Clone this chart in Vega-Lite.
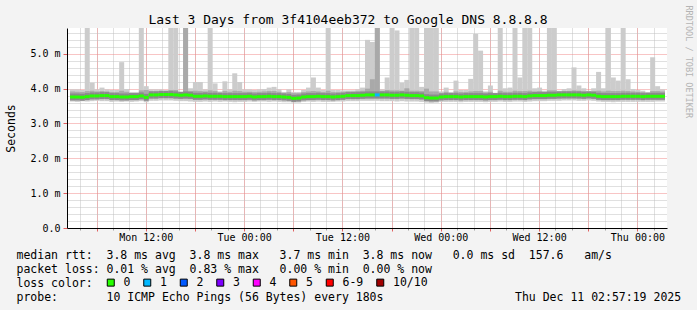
{
"$schema":"https://vega.github.io/schema/vega-lite/v6.json",
"width":600,"height":200,
"autosize":{"type":"none"},
"padding":{"left":67,"top":28,"right":30,"bottom":82},
"background":"#f3f3f3",
"config":{"view":{"stroke":null,"fill":"#ffffff"},"font":"DejaVu Sans Mono","axis":{"labelFont":"DejaVu Sans Mono","titleFont":"DejaVu Sans Mono"}},
"title":{"text":"Last 3 Days from 3f4104eeb372 to Google DNS 8.8.8.8","font":"DejaVu Sans Mono","fontSize":13,"fontWeight":"normal","color":"#000000","anchor":"middle","frame":"group","dx":-19,"dy":36,"offset":4.5,"baseline":"alphabetic"},
"data":{"values":[
{"t":"2025-12-08T03:03:36Z","lo":3.63,"q1":3.69,"q3":3.92,"hi":3.98,"med":3.76,"loss":"0"},
{"t":"2025-12-08T03:39:36Z","lo":3.62,"q1":3.69,"q3":3.91,"hi":3.98,"med":3.76,"loss":"0"},
{"t":"2025-12-08T04:15:36Z","lo":3.64,"q1":3.69,"q3":3.90,"hi":3.96,"med":3.75,"loss":"0"},
{"t":"2025-12-08T04:51:36Z","lo":3.63,"q1":3.69,"q3":3.93,"hi":5.74,"med":3.77,"loss":"0"},
{"t":"2025-12-08T05:27:36Z","lo":3.64,"q1":3.70,"q3":3.94,"hi":4.17,"med":3.79,"loss":"0"},
{"t":"2025-12-08T06:03:36Z","lo":3.65,"q1":3.70,"q3":3.92,"hi":3.98,"med":3.79,"loss":"0"},
{"t":"2025-12-08T06:39:36Z","lo":3.64,"q1":3.70,"q3":3.93,"hi":4.03,"med":3.80,"loss":"0"},
{"t":"2025-12-08T07:15:36Z","lo":3.64,"q1":3.70,"q3":3.92,"hi":3.98,"med":3.80,"loss":"0"},
{"t":"2025-12-08T07:51:36Z","lo":3.62,"q1":3.69,"q3":3.90,"hi":3.96,"med":3.77,"loss":"0"},
{"t":"2025-12-08T08:27:36Z","lo":3.63,"q1":3.69,"q3":3.90,"hi":3.96,"med":3.77,"loss":"0"},
{"t":"2025-12-08T09:03:36Z","lo":3.62,"q1":3.69,"q3":3.94,"hi":4.76,"med":3.76,"loss":"0"},
{"t":"2025-12-08T09:39:36Z","lo":3.63,"q1":3.69,"q3":3.91,"hi":3.99,"med":3.76,"loss":"0"},
{"t":"2025-12-08T10:15:36Z","lo":3.62,"q1":3.69,"q3":3.87,"hi":3.90,"med":3.77,"loss":"0"},
{"t":"2025-12-08T10:51:36Z","lo":3.63,"q1":3.69,"q3":3.87,"hi":3.90,"med":3.77,"loss":"0"},
{"t":"2025-12-08T11:27:36Z","lo":3.64,"q1":3.70,"q3":3.95,"hi":5.74,"med":3.79,"loss":"0"},
{"t":"2025-12-08T12:03:36Z","lo":3.61,"q1":3.68,"q3":3.96,"hi":4.07,"med":3.75,"loss":"0"},
{"t":"2025-12-08T12:39:36Z","lo":3.65,"q1":3.71,"q3":3.93,"hi":3.98,"med":3.82,"loss":"0"},
{"t":"2025-12-08T13:15:36Z","lo":3.65,"q1":3.71,"q3":3.93,"hi":3.98,"med":3.82,"loss":"0"},
{"t":"2025-12-08T13:51:36Z","lo":3.66,"q1":3.72,"q3":3.94,"hi":3.98,"med":3.83,"loss":"0"},
{"t":"2025-12-08T14:27:36Z","lo":3.66,"q1":3.72,"q3":3.93,"hi":3.96,"med":3.83,"loss":"0"},
{"t":"2025-12-08T15:03:36Z","lo":3.66,"q1":3.72,"q3":3.96,"hi":5.74,"med":3.83,"loss":"0"},
{"t":"2025-12-08T15:39:36Z","lo":3.65,"q1":3.71,"q3":3.96,"hi":5.74,"med":3.82,"loss":"0"},
{"t":"2025-12-08T16:15:36Z","lo":3.64,"q1":3.70,"q3":3.88,"hi":3.90,"med":3.81,"loss":"0"},
{"t":"2025-12-08T16:51:36Z","lo":3.64,"q1":3.70,"q3":5.74,"hi":5.74,"med":3.82,"loss":"0"},
{"t":"2025-12-08T17:27:36Z","lo":3.63,"q1":3.70,"q3":3.93,"hi":4.01,"med":3.81,"loss":"0"},
{"t":"2025-12-08T18:03:36Z","lo":3.62,"q1":3.69,"q3":3.94,"hi":4.19,"med":3.78,"loss":"0"},
{"t":"2025-12-08T18:39:36Z","lo":3.62,"q1":3.69,"q3":3.93,"hi":4.19,"med":3.78,"loss":"0"},
{"t":"2025-12-08T19:15:36Z","lo":3.63,"q1":3.69,"q3":3.92,"hi":3.98,"med":3.79,"loss":"0"},
{"t":"2025-12-08T19:51:36Z","lo":3.62,"q1":3.69,"q3":3.95,"hi":5.74,"med":3.78,"loss":"0"},
{"t":"2025-12-08T20:27:36Z","lo":3.63,"q1":3.69,"q3":3.93,"hi":4.15,"med":3.78,"loss":"0"},
{"t":"2025-12-08T21:03:36Z","lo":3.62,"q1":3.69,"q3":3.89,"hi":3.92,"med":3.78,"loss":"0"},
{"t":"2025-12-08T21:39:36Z","lo":3.63,"q1":3.69,"q3":3.93,"hi":4.21,"med":3.77,"loss":"0"},
{"t":"2025-12-08T22:15:36Z","lo":3.62,"q1":3.69,"q3":3.91,"hi":3.98,"med":3.77,"loss":"0"},
{"t":"2025-12-08T22:51:36Z","lo":3.61,"q1":3.68,"q3":3.94,"hi":4.44,"med":3.77,"loss":"0"},
{"t":"2025-12-08T23:27:36Z","lo":3.62,"q1":3.69,"q3":3.93,"hi":4.19,"med":3.77,"loss":"0"},
{"t":"2025-12-09T00:03:36Z","lo":3.62,"q1":3.69,"q3":3.91,"hi":3.98,"med":3.77,"loss":"0"},
{"t":"2025-12-09T00:39:36Z","lo":3.63,"q1":3.69,"q3":3.91,"hi":3.98,"med":3.78,"loss":"0"},
{"t":"2025-12-09T01:15:36Z","lo":3.62,"q1":3.69,"q3":3.90,"hi":3.96,"med":3.76,"loss":"0"},
{"t":"2025-12-09T01:51:36Z","lo":3.63,"q1":3.69,"q3":3.91,"hi":3.98,"med":3.77,"loss":"0"},
{"t":"2025-12-09T02:27:36Z","lo":3.63,"q1":3.69,"q3":3.92,"hi":3.99,"med":3.77,"loss":"0"},
{"t":"2025-12-09T03:03:36Z","lo":3.62,"q1":3.69,"q3":3.93,"hi":4.03,"med":3.78,"loss":"0"},
{"t":"2025-12-09T03:39:36Z","lo":3.63,"q1":3.69,"q3":3.93,"hi":4.05,"med":3.77,"loss":"0"},
{"t":"2025-12-09T04:15:36Z","lo":3.62,"q1":3.69,"q3":3.91,"hi":3.98,"med":3.77,"loss":"0"},
{"t":"2025-12-09T04:51:36Z","lo":3.61,"q1":3.68,"q3":3.88,"hi":3.90,"med":3.76,"loss":"0"},
{"t":"2025-12-09T05:27:36Z","lo":3.61,"q1":3.68,"q3":3.90,"hi":3.98,"med":3.75,"loss":"0"},
{"t":"2025-12-09T06:03:36Z","lo":3.60,"q1":3.66,"q3":3.87,"hi":3.90,"med":3.72,"loss":"0"},
{"t":"2025-12-09T06:39:36Z","lo":3.60,"q1":3.66,"q3":3.87,"hi":3.90,"med":3.73,"loss":"0"},
{"t":"2025-12-09T07:15:36Z","lo":3.62,"q1":3.68,"q3":3.90,"hi":3.96,"med":3.76,"loss":"0"},
{"t":"2025-12-09T07:51:36Z","lo":3.63,"q1":3.69,"q3":3.92,"hi":4.03,"med":3.77,"loss":"0"},
{"t":"2025-12-09T08:27:36Z","lo":3.62,"q1":3.69,"q3":3.93,"hi":4.32,"med":3.77,"loss":"0"},
{"t":"2025-12-09T09:03:36Z","lo":3.63,"q1":3.69,"q3":3.92,"hi":4.03,"med":3.78,"loss":"0"},
{"t":"2025-12-09T09:39:36Z","lo":3.62,"q1":3.69,"q3":3.90,"hi":3.96,"med":3.77,"loss":"0"},
{"t":"2025-12-09T10:15:36Z","lo":3.62,"q1":3.69,"q3":3.94,"hi":5.74,"med":3.77,"loss":"0"},
{"t":"2025-12-09T10:51:36Z","lo":3.62,"q1":3.68,"q3":3.90,"hi":3.96,"med":3.76,"loss":"0"},
{"t":"2025-12-09T11:27:36Z","lo":3.63,"q1":3.69,"q3":3.90,"hi":3.96,"med":3.77,"loss":"0"},
{"t":"2025-12-09T12:03:36Z","lo":3.63,"q1":3.69,"q3":3.91,"hi":3.95,"med":3.78,"loss":"0"},
{"t":"2025-12-09T12:39:36Z","lo":3.64,"q1":3.70,"q3":3.92,"hi":3.95,"med":3.80,"loss":"0"},
{"t":"2025-12-09T13:15:36Z","lo":3.64,"q1":3.70,"q3":3.92,"hi":3.95,"med":3.80,"loss":"0"},
{"t":"2025-12-09T13:51:36Z","lo":3.64,"q1":3.70,"q3":3.93,"hi":3.98,"med":3.80,"loss":"0"},
{"t":"2025-12-09T14:27:36Z","lo":3.65,"q1":3.71,"q3":3.94,"hi":4.03,"med":3.81,"loss":"0"},
{"t":"2025-12-09T15:03:36Z","lo":3.65,"q1":3.71,"q3":4.00,"hi":5.40,"med":3.82,"loss":"0"},
{"t":"2025-12-09T15:39:36Z","lo":3.65,"q1":3.71,"q3":4.27,"hi":5.34,"med":3.82,"loss":"0"},
{"t":"2025-12-09T16:15:36Z","lo":3.65,"q1":3.71,"q3":5.74,"hi":5.74,"med":3.82,"loss":"1"},
{"t":"2025-12-09T16:51:36Z","lo":3.64,"q1":3.71,"q3":3.93,"hi":3.98,"med":3.82,"loss":"0"},
{"t":"2025-12-09T17:27:36Z","lo":3.64,"q1":3.71,"q3":3.96,"hi":4.32,"med":3.82,"loss":"0"},
{"t":"2025-12-09T18:03:36Z","lo":3.64,"q1":3.70,"q3":3.95,"hi":5.74,"med":3.81,"loss":"0"},
{"t":"2025-12-09T18:39:36Z","lo":3.63,"q1":3.70,"q3":3.95,"hi":5.67,"med":3.81,"loss":"0"},
{"t":"2025-12-09T19:15:36Z","lo":3.64,"q1":3.71,"q3":3.94,"hi":4.17,"med":3.82,"loss":"0"},
{"t":"2025-12-09T19:51:36Z","lo":3.63,"q1":3.70,"q3":4.01,"hi":4.25,"med":3.81,"loss":"0"},
{"t":"2025-12-09T20:27:36Z","lo":3.63,"q1":3.70,"q3":3.94,"hi":5.74,"med":3.80,"loss":"0"},
{"t":"2025-12-09T21:03:36Z","lo":3.63,"q1":3.70,"q3":3.94,"hi":5.74,"med":3.80,"loss":"0"},
{"t":"2025-12-09T21:39:36Z","lo":3.62,"q1":3.69,"q3":3.93,"hi":4.05,"med":3.79,"loss":"0"},
{"t":"2025-12-09T22:15:36Z","lo":3.60,"q1":3.67,"q3":4.00,"hi":5.74,"med":3.74,"loss":"0"},
{"t":"2025-12-09T22:51:36Z","lo":3.59,"q1":3.66,"q3":3.92,"hi":5.74,"med":3.73,"loss":"0"},
{"t":"2025-12-09T23:27:36Z","lo":3.60,"q1":3.66,"q3":3.92,"hi":5.74,"med":3.73,"loss":"0"},
{"t":"2025-12-10T00:03:36Z","lo":3.62,"q1":3.68,"q3":3.88,"hi":3.92,"med":3.76,"loss":"0"},
{"t":"2025-12-10T00:39:36Z","lo":3.62,"q1":3.69,"q3":3.91,"hi":4.03,"med":3.77,"loss":"0"},
{"t":"2025-12-10T01:15:36Z","lo":3.62,"q1":3.69,"q3":3.88,"hi":3.90,"med":3.77,"loss":"0"},
{"t":"2025-12-10T01:51:36Z","lo":3.62,"q1":3.69,"q3":3.92,"hi":4.23,"med":3.77,"loss":"0"},
{"t":"2025-12-10T02:27:36Z","lo":3.61,"q1":3.68,"q3":3.90,"hi":3.96,"med":3.76,"loss":"0"},
{"t":"2025-12-10T03:03:36Z","lo":3.62,"q1":3.69,"q3":3.90,"hi":3.96,"med":3.77,"loss":"0"},
{"t":"2025-12-10T03:39:36Z","lo":3.62,"q1":3.69,"q3":3.92,"hi":4.28,"med":3.77,"loss":"0"},
{"t":"2025-12-10T04:15:36Z","lo":3.62,"q1":3.69,"q3":3.93,"hi":5.57,"med":3.77,"loss":"0"},
{"t":"2025-12-10T04:51:36Z","lo":3.62,"q1":3.69,"q3":3.93,"hi":5.09,"med":3.77,"loss":"0"},
{"t":"2025-12-10T05:27:36Z","lo":3.61,"q1":3.68,"q3":3.89,"hi":3.92,"med":3.76,"loss":"0"},
{"t":"2025-12-10T06:03:36Z","lo":3.62,"q1":3.69,"q3":3.91,"hi":4.09,"med":3.77,"loss":"0"},
{"t":"2025-12-10T06:39:36Z","lo":3.62,"q1":3.69,"q3":3.87,"hi":3.88,"med":3.77,"loss":"0"},
{"t":"2025-12-10T07:15:36Z","lo":3.63,"q1":3.69,"q3":3.94,"hi":5.74,"med":3.78,"loss":"0"},
{"t":"2025-12-10T07:51:36Z","lo":3.62,"q1":3.69,"q3":3.91,"hi":4.01,"med":3.77,"loss":"0"},
{"t":"2025-12-10T08:27:36Z","lo":3.62,"q1":3.69,"q3":3.91,"hi":4.03,"med":3.77,"loss":"0"},
{"t":"2025-12-10T09:03:36Z","lo":3.63,"q1":3.69,"q3":3.94,"hi":5.74,"med":3.78,"loss":"0"},
{"t":"2025-12-10T09:39:36Z","lo":3.63,"q1":3.69,"q3":3.93,"hi":4.32,"med":3.78,"loss":"0"},
{"t":"2025-12-10T10:15:36Z","lo":3.62,"q1":3.69,"q3":3.93,"hi":5.74,"med":3.77,"loss":"0"},
{"t":"2025-12-10T10:51:36Z","lo":3.63,"q1":3.70,"q3":3.94,"hi":5.74,"med":3.79,"loss":"0"},
{"t":"2025-12-10T11:27:36Z","lo":3.64,"q1":3.70,"q3":3.92,"hi":4.01,"med":3.80,"loss":"0"},
{"t":"2025-12-10T12:03:36Z","lo":3.64,"q1":3.70,"q3":3.93,"hi":4.03,"med":3.80,"loss":"0"},
{"t":"2025-12-10T12:39:36Z","lo":3.64,"q1":3.70,"q3":3.91,"hi":3.94,"med":3.80,"loss":"0"},
{"t":"2025-12-10T13:15:36Z","lo":3.65,"q1":3.71,"q3":3.95,"hi":5.74,"med":3.81,"loss":"0"},
{"t":"2025-12-10T13:51:36Z","lo":3.65,"q1":3.71,"q3":3.95,"hi":5.74,"med":3.81,"loss":"0"},
{"t":"2025-12-10T14:27:36Z","lo":3.65,"q1":3.71,"q3":3.92,"hi":3.94,"med":3.82,"loss":"0"},
{"t":"2025-12-10T15:03:36Z","lo":3.66,"q1":3.72,"q3":3.93,"hi":3.99,"med":3.82,"loss":"0"},
{"t":"2025-12-10T15:39:36Z","lo":3.66,"q1":3.72,"q3":3.93,"hi":4.01,"med":3.82,"loss":"0"},
{"t":"2025-12-10T16:15:36Z","lo":3.66,"q1":3.72,"q3":3.95,"hi":4.61,"med":3.82,"loss":"0"},
{"t":"2025-12-10T16:51:36Z","lo":3.65,"q1":3.71,"q3":3.94,"hi":4.09,"med":3.82,"loss":"0"},
{"t":"2025-12-10T17:27:36Z","lo":3.65,"q1":3.71,"q3":3.93,"hi":4.01,"med":3.81,"loss":"0"},
{"t":"2025-12-10T18:03:36Z","lo":3.66,"q1":3.72,"q3":3.92,"hi":3.94,"med":3.82,"loss":"0"},
{"t":"2025-12-10T18:39:36Z","lo":3.65,"q1":3.71,"q3":3.93,"hi":4.01,"med":3.81,"loss":"0"},
{"t":"2025-12-10T19:15:36Z","lo":3.63,"q1":3.69,"q3":3.94,"hi":4.48,"med":3.78,"loss":"0"},
{"t":"2025-12-10T19:51:36Z","lo":3.62,"q1":3.69,"q3":3.92,"hi":4.01,"med":3.77,"loss":"0"},
{"t":"2025-12-10T20:27:36Z","lo":3.62,"q1":3.69,"q3":3.94,"hi":5.74,"med":3.77,"loss":"0"},
{"t":"2025-12-10T21:03:36Z","lo":3.61,"q1":3.68,"q3":3.93,"hi":4.32,"med":3.77,"loss":"0"},
{"t":"2025-12-10T21:39:36Z","lo":3.62,"q1":3.69,"q3":3.93,"hi":4.23,"med":3.77,"loss":"0"},
{"t":"2025-12-10T22:15:36Z","lo":3.62,"q1":3.69,"q3":3.94,"hi":5.74,"med":3.78,"loss":"0"},
{"t":"2025-12-10T22:51:36Z","lo":3.62,"q1":3.69,"q3":3.93,"hi":4.27,"med":3.78,"loss":"0"},
{"t":"2025-12-10T23:27:36Z","lo":3.62,"q1":3.69,"q3":3.92,"hi":3.99,"med":3.78,"loss":"0"},
{"t":"2025-12-11T00:03:36Z","lo":3.62,"q1":3.69,"q3":3.91,"hi":3.96,"med":3.78,"loss":"0"},
{"t":"2025-12-11T00:39:36Z","lo":3.62,"q1":3.69,"q3":3.90,"hi":3.94,"med":3.77,"loss":"0"},
{"t":"2025-12-11T01:15:36Z","lo":3.62,"q1":3.69,"q3":3.88,"hi":3.90,"med":3.78,"loss":"0"},
{"t":"2025-12-11T01:51:36Z","lo":3.62,"q1":3.69,"q3":3.93,"hi":4.90,"med":3.78,"loss":"0"},
{"t":"2025-12-11T02:27:36Z","lo":3.63,"q1":3.69,"q3":3.93,"hi":4.07,"med":3.78,"loss":"0"},
{"t":"2025-12-11T03:03:36Z","lo":3.63,"q1":3.69,"q3":3.92,"hi":3.98,"med":3.78,"loss":"0"}
]},
"layer":[
{"mark":{"type":"bar","width":5,"color":"#cccccc","clip":true},
 "encoding":{
  "x":{"field":"t","type":"temporal","scale":{"type":"utc","domain":[{"year":2025,"month":12,"date":8,"hours":3,"utc":true},{"year":2025,"month":12,"date":11,"hours":3,"utc":true}]},
       "axis":{"orient":"bottom","tickCount":{"interval":"hours","step":2},"grid":true,"gridColor":"#c0c0c0","gridDash":[1,1],"labels":false,"domain":false,"ticks":true,"tickColor":"#a0a0a0","tickSize":2,"title":null}},
  "y":{"field":"lo","type":"quantitative","scale":{"domain":[0,5.74],"nice":false,"zero":true},
       "axis":{"orient":"left","values":[0.2,0.4,0.6,0.8,1.2,1.4,1.6,1.8,2.2,2.4,2.6,2.8,3.2,3.4,3.6,3.8,4.2,4.4,4.6,4.8,5.2,5.4,5.6],"grid":true,"gridColor":"#c0c0c0","gridDash":[1,1],"labels":false,"domain":false,"ticks":false,"title":null}},
  "y2":{"field":"hi"}}},
{"mark":{"type":"bar","width":5,"color":"#a9a9a9","clip":true},
 "encoding":{
  "x":{"field":"t","type":"temporal","scale":{"type":"utc","domain":[{"year":2025,"month":12,"date":8,"hours":3,"utc":true},{"year":2025,"month":12,"date":11,"hours":3,"utc":true}]},
       "axis":{"orient":"bottom","tickCount":{"interval":"hours","step":6},"grid":true,"gridColor":"#f08a8a","gridDash":[1,1],"labels":false,"domain":false,"ticks":true,"tickColor":"#e06060","tickSize":3,"title":null}},
  "y":{"field":"q1","type":"quantitative","scale":{"domain":[0,5.74],"nice":false,"zero":true},
       "axis":{"orient":"left","values":[0,1,2,3,4,5],"labelExpr":"datum.value == 0 ? '0.0' : format(datum.value, '.1f') + ' m'","grid":true,"gridColor":"#f08a8a","gridDash":[1,1],"labelFontSize":10,"labelColor":"#000000","labelPadding":3,"ticks":true,"tickColor":"#e06060","tickSize":4,"domain":true,"domainColor":"#000000","domainWidth":1,
               "title":"Seconds","titleFontSize":11.5,"titleFontWeight":"normal","titleColor":"#000000","titleX":-56,"titleY":100,"titleAngle":-90,"titleAlign":"center","titleBaseline":"middle"}},
  "y2":{"field":"q3"}}},
{"mark":{"type":"tick","orient":"horizontal","size":5,"thickness":7,"color":"#8a8a8a","opacity":1,"clip":true},
 "encoding":{
  "x":{"field":"t","type":"temporal","scale":{"type":"utc","domain":[{"year":2025,"month":12,"date":8,"hours":3,"utc":true},{"year":2025,"month":12,"date":11,"hours":3,"utc":true}]},
       "axis":{"orient":"bottom","tickCount":{"interval":"hours","step":12},"format":"%a %H:%M","labelFontSize":10,"labelColor":"#000000","labelPadding":4.5,"labelOverlap":false,"labelFlush":false,"ticks":false,"grid":false,"domain":true,"domainColor":"#000000","domainWidth":1,
               "title":["median rtt:\u00a0\u00a03.8 ms avg\u00a0\u00a03.8 ms max\u00a0\u00a0\u00a03.7 ms min\u00a0\u00a03.8 ms now\u00a0\u00a0\u00a00.0 ms sd\u00a0\u00a0157.6\u00a0\u00a0\u00a0am/s","packet loss:\u00a00.01 % avg\u00a0\u00a00.83 % max\u00a0\u00a0\u00a00.00 % min\u00a0\u00a00.00 % now","loss color:","probe:\u00a0\u00a0\u00a0\u00a0\u00a0\u00a0\u00a010 ICMP Echo Pings (56 Bytes) every 180s\u00a0\u00a0\u00a0\u00a0\u00a0\u00a0\u00a0\u00a0\u00a0\u00a0\u00a0\u00a0\u00a0\u00a0\u00a0\u00a0\u00a0\u00a0\u00a0Thu Dec 11 02:57:19 2025"],
               "titleFontSize":11.5,"titleFontWeight":"normal","titleColor":"#000000","titleX":-51,"titleY":30.3,"titleAlign":"left","titleAnchor":"start","titleBaseline":"alphabetic","titleLineHeight":14}},
  "y":{"field":"med","type":"quantitative","scale":{"domain":[0,5.74],"nice":false,"zero":true},"axis":null}}},
{"mark":{"type":"tick","orient":"horizontal","size":5,"thickness":3,"opacity":1,"clip":true},
 "encoding":{
  "x":{"field":"t","type":"temporal","scale":{"type":"utc","domain":[{"year":2025,"month":12,"date":8,"hours":3,"utc":true},{"year":2025,"month":12,"date":11,"hours":3,"utc":true}]},"axis":null},
  "y":{"field":"med","type":"quantitative","scale":{"domain":[0,5.74],"nice":false,"zero":true},
       "axis":{"orient":"right","domain":false,"ticks":false,"labels":false,"grid":false,"title":"RRDTOOL / TOBI OETIKER","titleFontSize":8.5,"titleColor":"#b4b4b4","titleFontWeight":"normal","titleAngle":90,"titleX":21.5,"titleY":-23,"titleAlign":"left","titleBaseline":"middle"}},
  "color":{"field":"loss","type":"nominal",
           "scale":{"domain":["0","1","2","3","4","5","6-9","10/10"],"range":["#26ff00","#00b8ff","#0059ff","#7e00ff","#ff00ff","#ff5500","#ff0000","#a10000"]},
           "legend":{"title":null,"orient":"none","legendX":38,"legendY":248.5,"direction":"horizontal","labelFont":"DejaVu Sans Mono","labelFontSize":11.5,"labelColor":"#000000","labelOffset":7,"columnPadding":10.5,"symbolType":"square","symbolSize":49,"symbolStrokeColor":"#000000","symbolStrokeWidth":1,"symbolOpacity":1,"padding":0}}}}
],
"resolve":{"axis":{"x":"independent","y":"independent"}}
}
